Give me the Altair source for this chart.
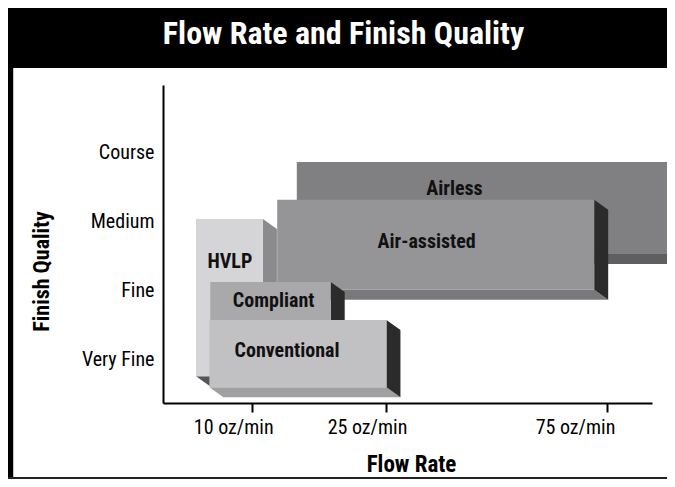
import json
import altair as alt
import pandas as pd

# ---------------- data ----------------
TITLE = "Flow Rate and Finish Quality"
X_TITLE = "Flow Rate"
Y_TITLE = "Finish Quality"

# drawn back to front
METHODS = ["Airless", "Air-assisted", "HVLP", "Compliant", "Conventional"]
FLOW_START = [15.0, 12.8, 3.7, 5.3, 5.2]          # oz/min
FLOW_END = [88.6, 72.1, 11.2, 18.8, 25.1]         # oz/min
QUALITY_TOP = [2.87, 2.32, 2.04, 1.12, 0.57]      # 0 = Very Fine ... 3 = Course
QUALITY_BOTTOM = [1.53, 1.01, -0.25, 0.57, -0.41]
LABEL_FLOW = [40.5, 34.2, 7.5, 12.4, 13.9]
LABEL_QUALITY = [2.48, 1.71, 1.41, 0.85, 0.11]

QUALITY_LEVELS = ["Very Fine", "Fine", "Medium", "Course"]
QUALITY_TICKS = [0, 1, 2, 3]
FLOW_TICKS = [10, 25, 75]
FLOW_TICK_LABELS = ["10 oz/min", "25 oz/min", "75 oz/min"]

# ---------------- style / layout ----------------
W, H = 489, 318
X_DOMAIN = [0, 25, 75, 85]          # piecewise flow-rate scale
X_RANGE = [0, 223, 444, 489]
Y_DOMAIN = [-0.64, 3.99]
DEPTH_X, DEPTH_Y = 14, 10           # pixel depth of the 3D boxes

FRONT = {"Airless": "#808082", "Air-assisted": "#959597", "HVLP": "#d5d5d7",
         "Compliant": "#a9a9ab", "Conventional": "#c1c1c3"}
SIDE = {"Airless": "#0a0a0a", "Air-assisted": "#2b2b2b", "HVLP": "#8b8b8d",
        "Compliant": "#2b2b2b", "Conventional": "#2b2b2b"}
BOTTOM = {"Airless": "#5f5f61", "Air-assisted": "#79797b", "HVLP": "#555557",
          "Compliant": "#808082", "Conventional": "#a0a0a2"}

NARROW = "Roboto Condensed, Liberation Sans Narrow, Arial Narrow, DejaVu Sans Condensed, sans-serif"


def x_to_px(v):
    for i in range(len(X_DOMAIN) - 1):
        if v <= X_DOMAIN[i + 1] or i == len(X_DOMAIN) - 2:
            d0, d1, r0, r1 = X_DOMAIN[i], X_DOMAIN[i + 1], X_RANGE[i], X_RANGE[i + 1]
            return r0 + (v - d0) * (r1 - r0) / (d1 - d0)


def px_to_x(p):
    for i in range(len(X_RANGE) - 1):
        if p <= X_RANGE[i + 1] or i == len(X_RANGE) - 2:
            d0, d1, r0, r1 = X_DOMAIN[i], X_DOMAIN[i + 1], X_RANGE[i], X_RANGE[i + 1]
            return d0 + (p - r0) * (d1 - d0) / (r1 - r0)


def shift_x(v):
    return px_to_x(x_to_px(v) + DEPTH_X)


DY = DEPTH_Y * (Y_DOMAIN[1] - Y_DOMAIN[0]) / H

bars = pd.DataFrame({
    "method": METHODS, "start": FLOW_START, "end": FLOW_END,
    "top": QUALITY_TOP, "bottom": QUALITY_BOTTOM,
    "lx": LABEL_FLOW, "ly": LABEL_QUALITY,
})

side_rows, bottom_rows = [], []
for m, s, e, t, b in zip(METHODS, FLOW_START, FLOW_END, QUALITY_TOP, QUALITY_BOTTOM):
    side_rows.append({"method": m, "x": e, "y": t, "y2": b})
    side_rows.append({"method": m, "x": shift_x(e), "y": t - DY, "y2": b - DY})
    bottom_rows.append({"method": m, "y": b, "x": s, "x2": e})
    bottom_rows.append({"method": m, "y": b - DY, "x": shift_x(s), "x2": shift_x(e)})
side_df = pd.DataFrame(side_rows)
bottom_df = pd.DataFrame(bottom_rows)

x_scale = alt.Scale(domain=X_DOMAIN, range=X_RANGE, zero=False, nice=False)
y_scale = alt.Scale(domain=Y_DOMAIN, zero=False, nice=False)

x_axis = alt.Axis(
    values=FLOW_TICKS,
    labelExpr=f"{json.dumps(FLOW_TICK_LABELS)}[indexof({json.dumps(FLOW_TICKS)}, datum.value)]",
    title=X_TITLE, titleFont=NARROW, titleFontSize=23, titleFontWeight="bold",
    titleColor="#000", titleX=248, titleY=68, titleAlign="center", titleBaseline="alphabetic",
    labelFont=NARROW, labelFontSize=20, labelColor="#000", labelBaseline="alphabetic",
    labelPadding=21,
    labelOffset={"condition": {"test": "datum.value == 75", "value": -32}, "value": -19},
    labelOverlap=False, labelFlush=False,
    tickSize=9, tickWidth=2, tickColor="#000", domainColor="#000", domainWidth=2, grid=False,
)
y_axis = alt.Axis(
    values=QUALITY_TICKS,
    labelExpr=f"{json.dumps(QUALITY_LEVELS)}[datum.value]",
    title=Y_TITLE, titleFont=NARROW, titleFontSize=22, titleFontWeight="bold",
    titleColor="#000", titleAngle=270, titleX=-115, titleY=186, titleAlign="center",
    titleBaseline="alphabetic",
    labelFont=NARROW, labelFontSize=20, labelColor="#000", labelPadding=9,
    labelBaseline="middle", ticks=False, tickSize=0,
    domainColor="#000", domainWidth=2, grid=False,
)


def X(field):
    return alt.X(f"{field}:Q", scale=x_scale, axis=x_axis)


def Y(field):
    return alt.Y(f"{field}:Q", scale=y_scale, axis=y_axis)


one = pd.DataFrame({"t": [TITLE]})
layers = [
    alt.Chart(one).mark_rect(color="#000").encode(
        x=alt.value(-155), x2=alt.value(504), y=alt.value(-77), y2=alt.value(-17)),
    alt.Chart(one).mark_rect(color="#000").encode(
        x=alt.value(-155), x2=alt.value(-150), y=alt.value(-17), y2=alt.value(394)),
    alt.Chart(one).mark_rect(color="#c8c8c8").encode(
        x=alt.value(-150), x2=alt.value(-149), y=alt.value(-17), y2=alt.value(392)),
    alt.Chart(one).mark_rect(color="#222").encode(
        x=alt.value(-155), x2=alt.value(504), y=alt.value(392), y2=alt.value(394)),
    alt.Chart(one).mark_text(
        align="center", baseline="alphabetic", font=NARROW, fontSize=32,
        fontWeight="bold", color="#fff").encode(
        x=alt.value(180.5), y=alt.value(-40.7), text="t:N"),
]

for m in METHODS:
    sel = alt.datum.method == m
    layers.append(
        alt.Chart(bottom_df).transform_filter(sel)
        .mark_area(orient="horizontal", color=BOTTOM[m])
        .encode(y=Y("y"), x=X("x"), x2="x2:Q"))
    layers.append(
        alt.Chart(side_df).transform_filter(sel)
        .mark_area(orient="vertical", color=SIDE[m])
        .encode(x=X("x"), y=Y("y"), y2="y2:Q"))
    layers.append(
        alt.Chart(bars).transform_filter(sel)
        .mark_rect(color=FRONT[m])
        .encode(x=X("start"), x2="end:Q", y=Y("top"), y2="bottom:Q"))
    layers.append(
        alt.Chart(bars).transform_filter(sel)
        .mark_text(align="center", baseline="middle", font=NARROW, fontSize=20,
                   fontWeight="bold", color="#111")
        .encode(x=X("lx"), y=Y("ly"), text="method:N"))

chart = alt.layer(*layers).properties(
    width=W, height=H,
    autosize=alt.AutoSizeParams(type="none"),
    padding={"left": 155, "top": 77, "right": 15, "bottom": 76},
    background="#ffffff",
).configure_view(stroke=None)

chart.save("out.html", embed_options={"renderer": "svg", "actions": False})
